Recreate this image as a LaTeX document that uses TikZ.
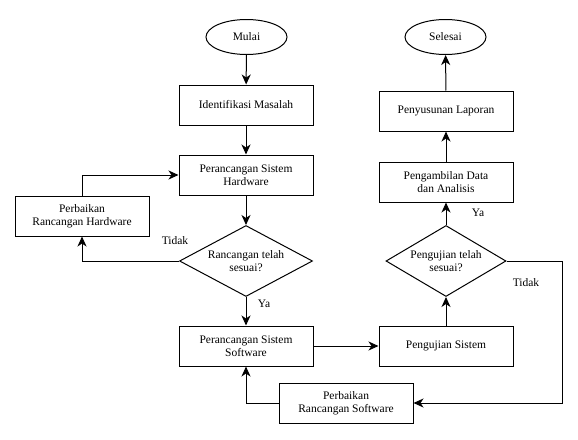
\documentclass[tikz,border=0pt]{standalone}
\usepackage{fontspec}
\setmainfont{Liberation Serif}
\usetikzlibrary{shapes.geometric,arrows.meta}
\begin{document}
\begin{tikzpicture}[x=1pt,y=-1pt,
  font=\fontsize{11.5}{13.5}\selectfont,
  base/.style={draw=black,line width=1pt,align=center,inner sep=1pt},
  procbox/.style={base,rectangle,minimum width=134pt,minimum height=40pt},
  term/.style={base,ellipse,minimum width=81pt,minimum height=35pt},
  decide/.style={base,diamond,minimum width=133pt,minimum height=71pt,inner sep=0pt},
  dtext/.style={align=center,inner sep=0pt},
  conn/.style={line width=1pt,-{Stealth[length=10pt,width=9pt,inset=3pt]}},
  lbl/.style={inner sep=0pt}]
\useasboundingbox (0,0) rectangle (578,439);
\node[term] (mulai) at (246.5,37) {Mulai};
\node[procbox] (ident) at (246,105) {Identifikasi Masalah};
\node[procbox] (hw) at (246,175) {Perancangan Sistem\\Hardware};
\node[procbox] (pbhw) at (82,216) {Perbaikan\\Rancangan Hardware};
\node[decide] (dhw) at (246,261) {};
\node[dtext] (dhwt) at (dhw) {Rancangan telah\\sesuai?};
\node[procbox] (sw) at (246,346) {Perancangan Sistem\\Software};
\node[procbox] (uji) at (446,346) {Pengujian Sistem};
\node[procbox] (pbsw) at (346,403) {Perbaikan\\Rancangan Software};
\node[decide,minimum width=120pt] (duji) at (446,261) {};
\node[dtext] (dujit) at (duji) {Pengujian telah\\sesuai?};
\node[procbox] (data) at (446,182) {Pengambilan Data\\dan Analisis};
\node[procbox] (lapor) at (446,111) {Penyusunan Laporan};
\node[term] (selesai) at (445.5,37) {Selesai};
\coordinate (r) at (562,403);

\node[lbl] (t1) at (175,241) {Tidak};
\node[lbl] (y1) at (264,304) {Ya};
\node[lbl] (y2) at (478,213) {Ya};
\node[lbl] (t2) at (526,283) {Tidak};

\draw[conn] (mulai) -- (ident);
\draw[conn] (ident) -- (hw);
\draw[conn] (hw) -- (dhw);
\draw[conn] (dhw.south) -- (sw.north);
\draw[conn] (dhw.west) -| (pbhw.south);
\draw[conn] (pbhw.north) |- (hw.west);
\draw[conn] (sw.east) -- (uji.west);
\draw[conn] (uji.north) -- (duji.south);
\draw[conn] (duji.north) -- (data.south);
\draw[conn] (data) -- (lapor);
\draw[conn] (lapor) -- (selesai);
\draw[conn] (duji.east) -| (r) -- (pbsw.east);
\draw[conn] (pbsw.west) -| (sw.south);
\end{tikzpicture}
\end{document}
